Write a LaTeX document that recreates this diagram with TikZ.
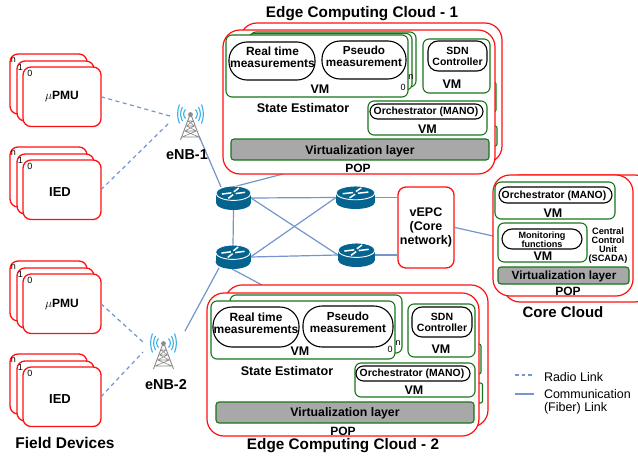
\documentclass[tikz,border=0pt]{standalone}
\usepackage{fontspec}
\setmainfont{Liberation Sans}
\usetikzlibrary{shapes.geometric}
\definecolor{cred}{HTML}{FF1010}
\definecolor{cgreen}{HTML}{187518}
\definecolor{cgray}{HTML}{A8A8A8}
\definecolor{clink}{HTML}{7396CC}
\definecolor{crouter}{HTML}{05648F}
\definecolor{ccyan}{HTML}{35B0E8}
\definecolor{ctower}{HTML}{8A8A8A}
\newcommand\fs[1]{\fontsize{#1}{#1}\selectfont}
\tikzset{
  redbig/.style={draw=cred,fill=white,line width=1.2pt,rounded corners=17pt},
  redsmall/.style={draw=cred,fill=white,line width=1.3pt,rounded corners=8pt},
  vmbox/.style={draw=cgreen,fill=white,line width=1.1pt,rounded corners=6pt},
  sliver/.style={draw=cgreen,fill=white,line width=1.1pt,rounded corners=2pt},
  pill/.style={draw=black,fill=white,line width=1.1pt,rounded corners=#1},
  pill/.default=7pt,
  virt/.style={draw=cgreen,fill=cgray,line width=1.1pt,rounded corners=3pt},
  fiber/.style={draw=clink,line width=1.2pt},
  radio/.style={draw=clink,line width=1.2pt,dash pattern=on 4pt off 3.5pt},
  routerbox/.style={inner sep=0pt,outer sep=0pt,rectangle},
  txt/.style={inner sep=0pt,outer sep=0pt,align=center,text=black,font=\bfseries\fs{#1}},
  txt/.default=12,
  plain/.style={inner sep=0pt,outer sep=0pt,align=left,text=black,font=\fs{#1}},
  plain/.default=9,
}
% box: name, x1, y1, x2, y2, style, text
\newcommand\bx[7]{%
  \pgfmathsetmacro\bxw{#4-#2}\pgfmathsetmacro\bxh{#5-#3}%
  \node[#6,minimum width=\bxw pt,minimum height=\bxh pt,inner sep=0pt,outer sep=0pt,align=center]
    (#1) at ({(#2+#4)/2},{(#3+#5)/2}) {#7};}
% router icon at a named node
\newcommand\routericon[4]{% cx cy w h
  \pgfmathsetmacro\rx{#3/2}\pgfmathsetmacro\ry{#4*0.3}%
  \pgfmathsetmacro\yt{#2-#4/2+\ry}\pgfmathsetmacro\yb{#2+#4/2-\ry}%
  \fill[crouter] (#1,\yb) ellipse ({\rx pt} and {\ry pt});
  \fill[crouter] (#1-\rx,\yt) rectangle (#1+\rx,\yb);
  \fill[crouter,draw=white,line width=0.9pt] (#1,\yt) ellipse ({\rx pt} and {\ry pt});
  \draw[white,line width=1.5pt] (#1-\rx*0.66,\yt+\ry*0.12) -- (#1-\rx*0.12,\yt-\ry*0.05)
     (#1+\rx*0.66,\yt-\ry*0.12) -- (#1+\rx*0.12,\yt+\ry*0.05)
     (#1-\rx*0.30,\yt+\ry*0.72) -- (#1-\rx*0.02,\yt+\ry*0.2)
     (#1+\rx*0.30,\yt-\ry*0.72) -- (#1+\rx*0.02,\yt-\ry*0.2);
}
% tower icon: cx, ytop
\newcommand\towericon[2]{%
  \begin{scope}[shift={(#1,#2)}]
  \foreach \r/\h in {5/4.5,8/7,11/9.5}{
    \draw[ccyan,line width=1.1pt] (-\r,-\h+7) .. controls (-\r-2.5,-\h/3+7) and (-\r-2.5,\h/3+7) .. (-\r,\h+7);
    \draw[ccyan,line width=1.1pt] (\r,-\h+7) .. controls (\r+2.5,-\h/3+7) and (\r+2.5,\h/3+7) .. (\r,\h+7);
  }
  \draw[ctower,line width=0.9pt] (-1,9) -- (-10,33) (1,9) -- (10,33);
  \draw[ctower,line width=0.6pt] (-2.5,14) -- (2.5,14) (-4,19) -- (4,19) (-6,24) -- (6,24) (-8.5,30) -- (8.5,30)
     (-2.5,14) -- (4,19) (2.5,14) -- (-4,19) (-4,19) -- (6,24) (4,19) -- (-6,24) (-6,24) -- (8.5,30) (6,24) -- (-8.5,30);
  \fill[black!45] (0,7.5) circle (2.4pt);
  \end{scope}}
% field device stack: prefix, ytop, label, text x, text y
\newcommand\fdstack[5]{%
  \pgfmathsetmacro\ya{#2}\pgfmathsetmacro\yb{#2+60}%
  \bx{#1n}{10}{\ya}{87}{\yb}{redsmall}{}
  \pgfmathsetmacro\ya{#2+7}\pgfmathsetmacro\yb{#2+67}%
  \bx{#1one}{17}{\ya}{94}{\yb}{redsmall}{}
  \pgfmathsetmacro\ya{#2+13}\pgfmathsetmacro\yb{#2+72.5}%
  \bx{#1zero}{23}{\ya}{101}{\yb}{redsmall}{}
  \pgfmathsetmacro\ya{#2+6}\node[plain=9] (#1ln) at (13.5,\ya) {n};
  \pgfmathsetmacro\ya{#2+13}\node[plain=9] (#1lo) at (20.5,\ya) {1};
  \pgfmathsetmacro\ya{#2+19}\node[plain=9] (#1lz) at (30,\ya) {0};
  \node[txt=13] (#1t) at (#4,#5) {#3};
}
\begin{document}
\begin{tikzpicture}[x=1pt,y=-1pt]
\useasboundingbox (0,0) rectangle (638,458);
\fill[white] (0,0) rectangle (638,458);

% router and antenna anchors
\node[routerbox,minimum width=35pt,minimum height=24pt] (r1) at (233.5,198) {};
\node[routerbox,minimum width=35pt,minimum height=24pt] (r2) at (233,257) {};
\node[routerbox,minimum width=39pt,minimum height=23pt] (r3) at (355.5,197.5) {};
\node[routerbox,minimum width=37pt,minimum height=24pt] (r4) at (356.5,255) {};
\coordinate (enb1port) at (199,136);
\coordinate (enb2port) at (185,331);
\coordinate (pop1port) at (283,174);
\coordinate (pop2port) at (262,285);
\coordinate (r1up) at (221,187);
\coordinate (r1top) at (233,187);
\coordinate (r2down) at (219,268);
\coordinate (r2low) at (232,269);
\coordinate (enb1a) at (170,116);
\coordinate (enb1b) at (170,122);
\coordinate (enb2a) at (143,342);
\coordinate (enb2b) at (143,352);
\coordinate (coreport) at (493,236);
\coordinate (vepcout) at (455,227.5);

% vEPC
\bx{vepc}{398}{187}{454}{268}{redsmall,font=\bfseries\fontsize{12.5}{14}\selectfont}{vEPC\\(Core\\network)}

% links
\draw[fiber] (r1.east) -- (r3.west);
\draw[fiber] (r1.south) -- (r2.north);
\draw[fiber] (r1.east) -- (r4.west);
\draw[fiber] (r2.east) -- (r3.west);
\draw[fiber] (r2.east) -- (r4.west);
\draw[fiber] (r3.east) -- (vepc.west |- r3.east);
\draw[fiber] (r4.east) -- (vepc.west |- r4.east);
\draw[fiber] (r1up) -- (enb1port);
\draw[fiber] (r1top) -- (pop1port);
\draw[fiber] (r2down) -- (enb2port);
\draw[fiber] (r2low) -- (pop2port);
\draw[fiber] (vepcout) -- (coreport);

% routers
\routericon{233.5}{198}{35}{24}
\routericon{233}{257}{35}{24}
\routericon{355.5}{197.5}{39}{23}
\routericon{356.5}{255}{37}{24}

% towers
\towericon{190.5}{107}
\towericon{163.5}{336}
\node[txt=14.4] (enb1lab) at (187,154.5) {eNB-1};
\node[txt=14.4] (enb2lab) at (166,385) {eNB-2};

% field devices
\fdstack{fa}{54}{$\mu$\fs{12}PMU}{62}{97}
\fdstack{fb}{147}{IED}{60}{192}
\fdstack{fc}{261}{$\mu$\fs{12}PMU}{62}{305}
\fdstack{fd}{354}{IED}{60}{399}
\node[txt=15.5] (fdlab) at (65,443) {Field Devices};

\draw[radio] (fazero.east) -- (enb1a);
\draw[radio] (fbzero.east) -- (enb1b);
\draw[radio] (fczero.east) -- (enb2a);
\draw[radio] (fdzero.east) -- (enb2b);

% ---------- Edge cloud 1
\node[txt=15.3] (t1) at (362,14) {Edge Computing Cloud - 1};
\bx{c1back}{240}{23}{502}{163}{redbig}{}
\bx{c1s1}{470}{82}{496}{112}{sliver}{}
\bx{c1s2}{470}{126}{497}{146}{sliver}{}
\bx{c1front}{223}{30}{495}{174}{redbig}{}
\bx{c1vm3}{250}{32}{416}{87}{vmbox}{}
\bx{c1vm2}{248}{33.5}{412}{90}{vmbox}{}
\bx{c1vm1}{226}{35}{408}{97}{vmbox}{}
\node[plain=9] (c1n) at (411,77) {n};
\node[plain=9] (c1z) at (403,87) {0};
\bx{c1real}{229}{42}{315}{80}{pill=18pt}{}
\bx{c1pseudo}{322}{41}{406}{79}{pill=18pt}{}
\node[txt=12] (c1realt) at (272.5,57) {\fontsize{11.9}{14}\selectfont Real time\\measurements};
\node[txt=11.7] (c1pset) at (364,56) {\fontsize{11.7}{14}\selectfont Pseudo\\measurement};
\node[txt=12.5] (c1vmt) at (320,89.5) {VM};
\bx{c1sdnvm}{423}{39}{490}{93}{vmbox}{}
\bx{c1sdn}{428}{41}{487}{71}{pill=10pt}{}
\node[txt=10.5] (c1sdnt) at (457.5,56.5) {\fontsize{10.5}{12.7}\selectfont SDN\\Controller};
\node[txt=12.5] (c1sdnvmt) at (452,84) {VM};
\node[txt=12.6] (c1se) at (303,108) {State Estimator};
\bx{c1orvm}{368}{101}{487}{135}{vmbox}{}
\bx{c1or}{370}{104}{483}{119}{pill=7.5pt}{}
\node[txt=10.4] (c1ort) at (426,112) {Orchestrator (MANO)};
\node[txt=12.5] (c1orvmt) at (427.5,129) {VM};
\bx{c1virt}{231}{139}{489}{160}{virt}{}
\node[txt=12.3] (c1virtt) at (360,151) {Virtualization layer};
\node[txt=12] (c1pop) at (358,168) {POP};

% ---------- Edge cloud 2
\bx{c2back}{225}{285}{488}{427}{redbig}{}
\bx{c2s1}{460}{344}{481}{374}{sliver}{}
\bx{c2s2}{460}{383}{482.5}{403}{sliver}{}
\bx{c2front}{207}{293}{479}{436}{redbig}{}
\bx{c2vm2}{230}{295}{402}{353}{vmbox}{}
\bx{c2vm1}{211}{301}{395}{359}{vmbox}{}
\node[plain=9] (c2n) at (398,343) {n};
\node[plain=9] (c2z) at (390,349) {0};
\bx{c2real}{213}{307}{299}{347}{pill=19pt}{}
\bx{c2pseudo}{303}{306}{393}{347}{pill=19pt}{}
\node[txt=12] (c2realt) at (256,323.5) {\fontsize{11.9}{14}\selectfont Real time\\measurements};
\node[txt=11.7] (c2pset) at (348,322.5) {\fontsize{11.7}{14}\selectfont Pseudo\\measurement};
\node[txt=12.5] (c2vmt) at (300,351) {VM};
\bx{c2sdnvm}{408}{304}{475}{357}{vmbox}{}
\bx{c2sdn}{412}{307}{472}{337}{pill=10pt}{}
\node[txt=10.5] (c2sdnt) at (442,322.5) {\fontsize{10.5}{12.7}\selectfont SDN\\Controller};
\node[txt=12.5] (c2sdnvmt) at (441,349) {VM};
\node[txt=12.6] (c2se) at (287,371) {State Estimator};
\bx{c2orvm}{355}{363}{475}{397}{vmbox}{}
\bx{c2or}{356}{366}{470}{381}{pill=7.5pt}{}
\node[txt=10.4] (c2ort) at (412,374) {Orchestrator (MANO)};
\node[txt=12.5] (c2orvmt) at (414,390) {VM};
\bx{c2virt}{216}{402}{474}{423}{virt}{}
\node[txt=12.3] (c2virtt) at (345,413.5) {Virtualization layer};
\node[txt=12] (c2pop) at (343,431) {POP};
\node[txt=15.3] (t2) at (343,446) {Edge Computing Cloud - 2};

% ---------- Core cloud
\bx{ccback}{503}{175}{652}{302}{redbig}{}
\bx{ccfront}{493}{175}{633}{296}{redbig}{}
\bx{ccorvm}{495}{182}{615}{219}{vmbox}{}
\bx{ccor}{499}{187}{612}{203}{pill=8pt}{}
\node[txt=10.4] (ccort) at (554,196) {Orchestrator (MANO)};
\node[txt=12.5] (ccorvmt) at (553,213) {VM};
\bx{ccmonvm}{498}{223}{587}{262}{vmbox}{}
\bx{ccmon}{502}{229}{582}{249}{pill=10pt}{}
\node[txt=9.1] (ccmont) at (542,240) {\fontsize{9.1}{10}\selectfont Monitoring\\functions};
\node[txt=12.5] (ccmonvmt) at (543,256) {VM};
\node[txt=9.2] (ccscada) at (608,245.5) {\fontsize{9.2}{10.3}\selectfont Central\\Control\\Unit\\(SCADA)};
\bx{ccvirt}{498}{267}{629}{284}{virt}{}
\node[txt=11.8] (ccvirtt) at (564,276.5) {Virtualization layer};
\node[txt=12] (ccpop) at (568,291) {POP};
\node[txt=15] (cclab) at (563,312) {Core Cloud};

% ---------- Legend
\coordinate (la) at (515,375);
\coordinate (lb) at (534,375);
\coordinate (lc) at (515,394);
\coordinate (ld) at (534,394);
\draw[radio,dash pattern=on 3.5pt off 3pt] (la) -- (lb);
\draw[fiber,line width=1.4pt] (lc) -- (ld);
\node[plain=12.5,anchor=west] (lradio) at (544,377) {Radio Link};
\node[plain=12.5,anchor=west] (lcomm) at (544,402) {\fontsize{12.5}{14.5}\selectfont Communication\\(Fiber) Link};
\end{tikzpicture}
\end{document}
